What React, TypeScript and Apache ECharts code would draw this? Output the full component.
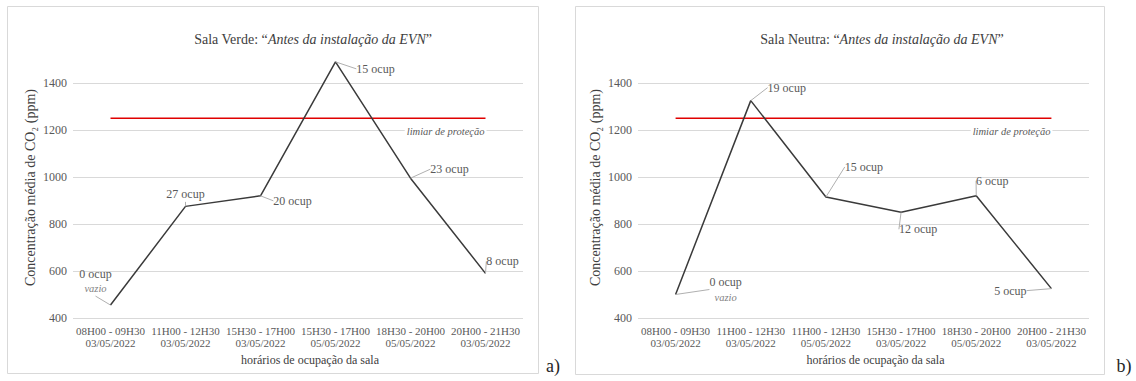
import React, { useEffect, useRef } from 'react';
import * as echarts from 'echarts';

// Periods of room occupation (two-line category labels)
const periodsVerde = [
  '08H00 - 09H30\n03/05/2022',
  '11H00 - 12H30\n03/05/2022',
  '15H30 - 17H00\n03/05/2022',
  '15H30 - 17H00\n05/05/2022',
  '18H30 - 20H00\n05/05/2022',
  '20H00 - 21H30\n03/05/2022',
];
const periodsNeutra = [
  '08H00 - 09H30\n03/05/2022',
  '11H00 - 12H30\n03/05/2022',
  '11H00 - 12H30\n05/05/2022',
  '15H30 - 17H00\n03/05/2022',
  '18H30 - 20H00\n05/05/2022',
  '20H00 - 21H30\n03/05/2022',
];

// Mean CO2 concentration (ppm) per period
const co2Verde = [455, 875, 920, 1490, 995, 590];
const co2Neutra = [500, 1325, 915, 850, 920, 525];

// Number of occupants per period
const ocupVerde = [0, 27, 20, 15, 23, 8];
const ocupNeutra = [0, 19, 15, 12, 6, 5];

// Protection threshold (ppm)
const limiar = 1250;

// Y axis range
const yMin = 400;
const yMax = 1400;
const yStep = 200;

const SERIF = 'Liberation Serif';

// label offsets (dx, dy) from each point, in pixels
const shiftVerde = [[-15, -24], [0, -12], [32, 5], [40, 7], [39, -9], [17, -12]];
const shiftNeutra = [[50, -5], [36, -13], [38, -30], [17, 17], [16, -15], [-41, 2]];

function buildPanel(
  idx: number,
  periods: string[],
  co2: number[],
  ocup: number[],
  shifts: number[][]
) {
  const xAxis = {
    type: 'category',
    gridIndex: idx,
    data: periods,
    boundaryGap: true,
    axisLine: { show: false },
    axisTick: { show: false },
    axisLabel: {
      interval: 0,
      margin: 7,
      color: '#595959',
      fontFamily: SERIF,
      fontSize: 11,
      lineHeight: 12,
    },
    name: 'horários de ocupação da sala',
    nameLocation: 'middle',
    nameGap: 35,
    nameTextStyle: {
      color: '#404040',
      fontFamily: SERIF,
      fontSize: 12,
      padding: [0, 0, 0, 24],
    },
  };
  const yAxis = {
    type: 'value',
    gridIndex: idx,
    min: yMin,
    max: yMax,
    interval: yStep,
    axisLine: { show: false },
    axisTick: { show: false },
    splitLine: { show: true, lineStyle: { color: '#d9d9d9', width: 1 } },
    axisLabel: {
      margin: 6,
      color: '#595959',
      fontFamily: SERIF,
      fontSize: 12,
      formatter: (v: number) => String(v),
    },
    name: 'Concentração média de CO₂ (ppm)',
    nameLocation: 'middle',
    nameGap: 36,
    nameRotate: 90,
    nameTextStyle: {
      color: '#404040',
      fontFamily: SERIF,
      fontSize: 14,
      padding: [0, 0, 0, 26],
    },
  };
  const last = periods.length - 1;
  const thresholdSeries = {
    type: 'line',
    xAxisIndex: idx,
    yAxisIndex: idx,
    data: periods.map((_, i) =>
      i === last
        ? {
            value: limiar,
            label: {
              show: true,
              position: 'inside',
              align: 'right',
              offset: [1, 13],
              formatter: 'limiar de proteção',
              fontFamily: SERIF,
              fontStyle: 'italic',
              fontSize: 10.5,
              color: '#595959',
              backgroundColor: '#ffffff',
              padding: [0, 2],
            },
          }
        : limiar
    ),
    symbol: 'circle',
    symbolSize: 0.1,
    showSymbol: true,
    lineStyle: { color: '#e00000', width: 1.5 },
    itemStyle: { color: '#e00000' },
    silent: true,
    z: 2,
  };
  const dataSeries = {
    type: 'line',
    xAxisIndex: idx,
    yAxisIndex: idx,
    data: co2,
    clip: false,
    symbol: 'circle',
    symbolSize: 0.1,
    showSymbol: true,
    lineStyle: { color: '#3a3a3a', width: 1.5 },
    itemStyle: { color: '#3a3a3a' },
    label: {
      show: true,
      position: 'inside',
      formatter: (p: any) =>
        ocup[p.dataIndex] === 0
          ? `${ocup[p.dataIndex]} ocup\n{i|vazio}`
          : `${ocup[p.dataIndex]} ocup`,
      fontFamily: SERIF,
      fontSize: 12,
      lineHeight: 15,
      color: '#595959',
      rich: {
        i: {
          fontFamily: SERIF,
          fontStyle: 'italic',
          fontSize: 10.5,
          color: '#7f7f7f',
          lineHeight: 15,
        },
      },
    },
    labelLayout: (p: any) => ({
      dx: shifts[p.dataIndex][0],
      dy: shifts[p.dataIndex][1],
    }),
    labelLine: {
      show: true,
      lineStyle: { color: '#b0b0b0', width: 1 },
    },
    z: 3,
  };
  return { xAxis, yAxis, series: [thresholdSeries, dataSeries] };
}

function titleText(x: number, room: string) {
  return {
    type: 'text',
    x,
    y: 39,
    style: {
      text: `{n|${room}: “}{i|Antes da instalação da EVN}{n|”}`,
      align: 'center',
      verticalAlign: 'middle',
      fontFamily: SERIF,
      fontSize: 14,
      rich: {
        n: { fontFamily: SERIF, fontSize: 14, fill: '#404040' },
        i: { fontFamily: SERIF, fontSize: 14, fontStyle: 'italic', fill: '#404040' },
      },
    },
  };
}

export default function App() {
  const ref = useRef<HTMLDivElement>(null);

  useEffect(() => {
    if (!ref.current) return;
    const chart = echarts.init(ref.current, undefined, { renderer: 'svg' });
    const a = buildPanel(0, periodsVerde, co2Verde, ocupVerde, shiftVerde);
    const b = buildPanel(1, periodsNeutra, co2Neutra, ocupNeutra, shiftNeutra);
    chart.setOption({
      animation: false,
      backgroundColor: '#ffffff',
      textStyle: { fontFamily: SERIF },
      grid: [
        { left: 73, right: 1136 - 523, top: 83, bottom: 63 },
        { left: 638, right: 1136 - 1089, top: 83, bottom: 63 },
      ],
      xAxis: [a.xAxis, b.xAxis],
      yAxis: [a.yAxis, b.yAxis],
      series: [...a.series, ...b.series],
      graphic: [
        {
          type: 'rect',
          shape: { x: 7.5, y: 6.5, width: 531, height: 367 },
          style: { fill: 'none', stroke: '#d9d9d9', lineWidth: 1 },
          silent: true,
        },
        {
          type: 'rect',
          shape: { x: 575.5, y: 6.5, width: 529, height: 368 },
          style: { fill: 'none', stroke: '#d9d9d9', lineWidth: 1 },
          silent: true,
        },
        titleText(313, 'Sala Verde'),
        titleText(882, 'Sala Neutra'),
        {
          type: 'text',
          x: 553,
          y: 366,
          style: {
            text: 'a)',
            align: 'center',
            verticalAlign: 'middle',
            fontFamily: SERIF,
            fontSize: 18,
            fill: '#262626',
          },
        },
        {
          type: 'text',
          x: 1124,
          y: 366,
          style: {
            text: 'b)',
            align: 'center',
            verticalAlign: 'middle',
            fontFamily: SERIF,
            fontSize: 18,
            fill: '#262626',
          },
        },
      ],
    });
    return () => chart.dispose();
  }, []);

  return (
    <div
      ref={ref}
      style={{ position: 'absolute', left: 0, top: 0, width: 1136, height: 381 }}
    />
  );
}
